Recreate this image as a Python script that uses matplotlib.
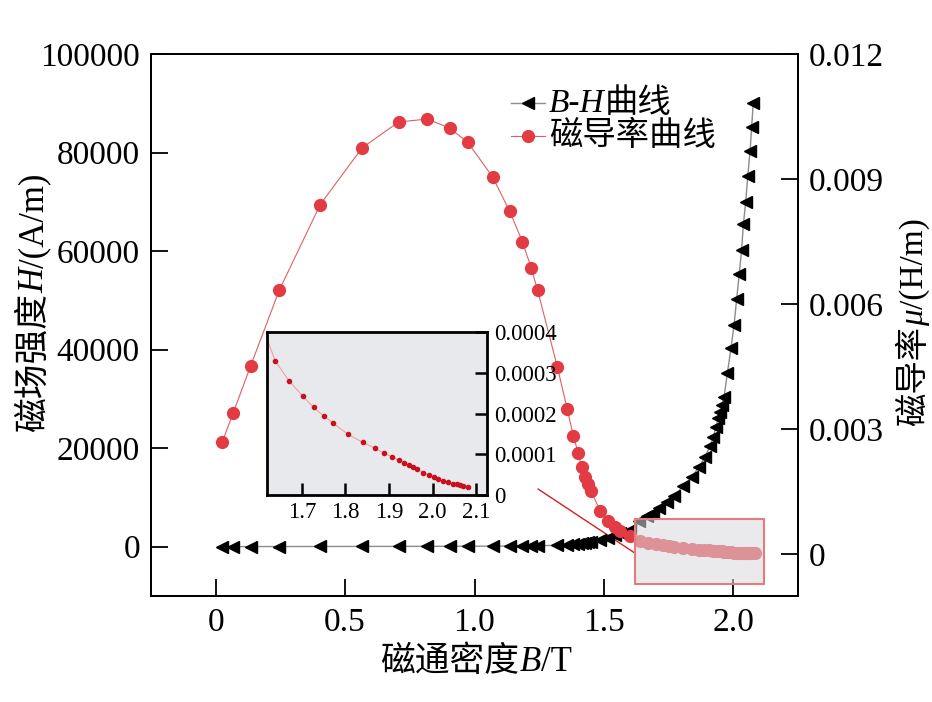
import matplotlib
matplotlib.use("Agg")
import matplotlib.pyplot as plt
from matplotlib.patches import Rectangle
from matplotlib.lines import Line2D
from matplotlib.transforms import IdentityTransform

FAM = ['Liberation Serif', 'Noto Sans CJK SC']
plt.rcParams['font.family'] = FAM

# ---- data ----
B_low = [0.025, 0.067, 0.135, 0.246, 0.404, 0.566, 0.707, 0.818, 0.905, 0.974,
         1.070, 1.136, 1.185, 1.219, 1.244, 1.320, 1.358, 1.382, 1.401, 1.414,
         1.427, 1.440, 1.450, 1.485, 1.517, 1.543, 1.562, 1.600]
H_low = [10, 20, 30, 40, 50, 60, 70, 80, 90, 100, 120, 140, 160, 180, 200, 290,
         390, 490, 580, 680, 770, 860, 950, 1410, 1870, 2340, 2740, 3480]
mu_low = [0.00269, 0.00338, 0.00452, 0.00634, 0.00839, 0.00975, 0.01037, 0.01044,
          0.01022, 0.00988, 0.00905, 0.00823, 0.00750, 0.00687, 0.00633, 0.00450,
          0.00349, 0.00284, 0.00242, 0.00209, 0.00186, 0.00168, 0.00152, 0.00105,
          0.00081, 0.00066, 0.00057, 0.00044]

B_H_high = [1.637, 1.665, 1.691, 1.714, 1.743, 1.771, 1.807, 1.839, 1.869, 1.891,
            1.910, 1.923, 1.933, 1.942, 1.949, 1.955, 1.964, 1.977, 1.991, 2.003,
            2.013, 2.023, 2.032, 2.039, 2.048, 2.056, 2.065, 2.071, 2.077]
H_high = [5280, 6230, 6900, 7800, 9140, 10300, 12330, 14210, 16240, 18280,
          20450, 22340, 24370, 26070, 27410, 28770, 30300, 35200, 40290, 45020,
          50300, 55370, 60250, 65460, 70050, 75270, 80410, 85280, 90030]

B_mu_high = [1.639, 1.671, 1.702, 1.727, 1.750, 1.772, 1.806, 1.840, 1.867, 1.888,
             1.907, 1.922, 1.935, 1.946, 1.955, 1.964, 1.979, 1.993, 2.003, 2.013,
             2.025, 2.036, 2.048, 2.055, 2.063, 2.070, 2.082]
mu_high = [3.29e-4, 2.79e-4, 2.43e-4, 2.15e-4, 1.94e-4, 1.76e-4, 1.49e-4, 1.29e-4,
           1.15e-4, 1.03e-4, 0.94e-4, 0.85e-4, 0.79e-4, 0.73e-4, 0.69e-4, 0.64e-4,
           0.55e-4, 0.48e-4, 0.43e-4, 0.39e-4, 0.35e-4, 0.31e-4, 0.27e-4, 0.26e-4,
           0.24e-4, 0.23e-4, 0.20e-4]

x_ticks = [0, 0.5, 1.0, 1.5, 2.0]
x_ticklabels = ['0', '0.5', '1.0', '1.5', '2.0']
h_ticks = [0, 20000, 40000, 60000, 80000, 100000]
mu_ticks = [0, 0.003, 0.006, 0.009, 0.012]
mu_ticklabels = ['0', '0.003', '0.006', '0.009', '0.012']
in_x_ticks = [1.7, 1.8, 1.9, 2.0, 2.1]
in_x_ticklabels = ['1.7', '1.8', '1.9', '2.0', '2.1']
in_y_ticks = [0, 0.0001, 0.0002, 0.0003, 0.0004]
in_y_ticklabels = ['0', '0.0001', '0.0002', '0.0003', '0.0004']

xlabel_parts = [('磁通密度', 'normal'), ('B', 'italic'), ('/T', 'normal')]
ylabel_parts = [('磁场强度', 'normal'), ('H', 'italic'), ('/(A/m)', 'normal')]
y2label_parts = [('磁导率', 'normal'), ('μ', 'italic'), ('/(H/m)', 'normal')]
legend1_parts = [('B-H', 'italic'), ('曲线', 'normal')]
legend2_parts = [('磁导率曲线', 'normal')]

B_H = B_low + B_H_high
H = H_low + H_high
B_mu = B_low + B_mu_high
mu = mu_low + mu_high

# ---- figure ----
W, HGT = 932, 702
fig = plt.figure(figsize=(W / 100, HGT / 100), dpi=100)
renderer = fig.canvas.get_renderer()
PIX = IdentityTransform()


def rich(parts, x, y, fontsize, rotation=0, align='center'):
    """Draw mixed-style text; (x, y) = baseline anchor in pixels (from bottom-left)."""
    widths = []
    for s, st in parts:
        t = fig.text(0, 0, s, fontsize=fontsize, style=st, family=FAM)
        widths.append(t.get_window_extent(renderer).width)
        t.remove()
    total = sum(widths)
    pos = -total / 2 if align == 'center' else 0
    for (s, st), w in zip(parts, widths):
        if rotation == 0:
            fig.text(x + pos, y, s, fontsize=fontsize, style=st, family=FAM,
                     ha='left', va='baseline', transform=PIX)
        else:
            fig.text(x, y + pos, s, fontsize=fontsize, style=st, family=FAM,
                     ha='left', va='baseline', rotation=90,
                     rotation_mode='anchor', transform=PIX)
        pos += w


ax = fig.add_axes([151 / W, 1 - 596 / HGT, 647 / W, 542 / HGT])
ax2 = ax.twinx()

red = '#e23b44'
ax.plot(B_H, H, color='#8c8c8c', lw=1.0, marker='<', ms=9, mfc='black',
        mec='black', zorder=3)
ax.set_xlim(-0.25, 2.25)
ax.set_ylim(-10000, 100000)
ax.set_xticks(x_ticks)
ax.set_xticklabels(x_ticklabels)
ax.set_yticks(h_ticks)
ax.set_yticklabels([str(v) for v in h_ticks])

# connector line
ax.plot([1.246, 1.62], [11700, -1300], color='#d42020', lw=1.0, zorder=2)

ax2.plot(B_mu, mu, color='#e06060', lw=0.8, marker='o', ms=8.5, mfc=red,
         mec=red, zorder=3)
ax2.set_ylim(-0.001, 0.012)
ax2.set_yticks(mu_ticks)
ax2.set_yticklabels(mu_ticklabels)

# highlight rectangle
rect = Rectangle((1.62, -0.000712), 2.118 - 1.62, 0.000847 + 0.000712,
                 facecolor=(0.85, 0.855, 0.87, 0.55), edgecolor='#e47c7c',
                 lw=1.5, zorder=10)
ax2.add_patch(rect)

for a in (ax, ax2):
    for s in a.spines.values():
        s.set_linewidth(1.3)
ax.tick_params(axis='both', direction='in', length=12, width=1.3,
               labelsize=24, pad=8)
ax2.tick_params(axis='y', direction='in', length=12, width=1.3,
                labelsize=24, pad=8)

# axis labels (mixed fonts)
rich(xlabel_parts, 476, HGT - 671, 25)
rich(ylabel_parts, 43, HGT - 303, 25, rotation=90)
rich(y2label_parts, 923, HGT - 322, 24, rotation=90)

# legend (handles + mixed-style labels)
legend_rows = [
    (HGT - 103, '#8c8c8c', 1.0, '<', 9, 'black'),
    (HGT - 136, '#e06060', 0.8, 'o', 8.5, red),
]
for yy, lc, lw, mk, ms, mc in legend_rows:
    fig.add_artist(Line2D([511, 545], [yy, yy], transform=PIX, color=lc, lw=lw))
    fig.add_artist(Line2D([528], [yy], transform=PIX, ls='none', marker=mk,
                          ms=ms, mfc=mc, mec=mc))
rich(legend1_parts, 549, HGT - 112, 24, align='left')
rich(legend2_parts, 549, HGT - 145, 24, align='left')

# inset
axi = fig.add_axes([267 / W, 1 - 495 / HGT, 220 / W, 163 / HGT])
axi.set_facecolor('#e8e9ec')
axi.plot(B_mu, mu, color='#f0a0a0', lw=0.8, marker='o', ms=3.0,
         mfc='#c8101e', mec='#c8101e')
axi.set_xlim(1.62, 2.125)
axi.set_ylim(0, 0.0004)
axi.set_xticks(in_x_ticks)
axi.set_xticklabels(in_x_ticklabels)
axi.set_yticks(in_y_ticks)
axi.set_yticklabels(in_y_ticklabels)
axi.yaxis.tick_right()
axi.tick_params(axis='both', direction='in', length=9, width=1.8,
                labelsize=16.5, pad=5)
axi.tick_params(axis='y', left=False, right=True)
axi.tick_params(axis='x', top=False)
for s in axi.spines.values():
    s.set_linewidth(2.0)

fig.savefig('out.png', dpi=100)
